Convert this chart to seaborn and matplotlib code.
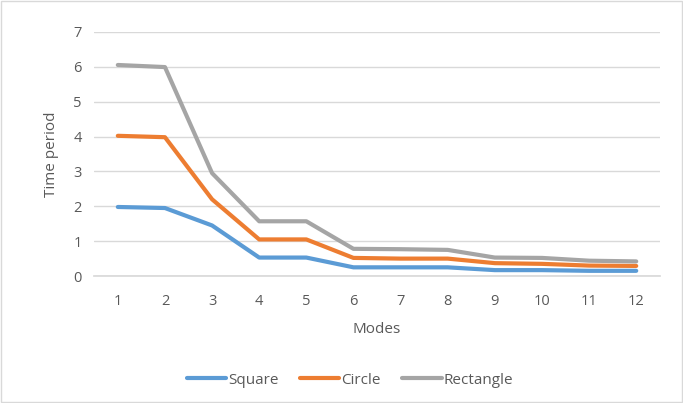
"""
Time period per mode for three shapes, Excel-style line chart.
"""
import matplotlib
matplotlib.use('Agg')
import matplotlib.pyplot as plt
import pandas as pd
import seaborn as sns

# Chart data
MODES = [1, 2, 3, 4, 5, 6, 7, 8, 9, 10, 11, 12]
SQUARE = [1.98, 1.95, 1.45, 0.53, 0.53, 0.25, 0.25, 0.25, 0.17, 0.17, 0.15, 0.15]
CIRCLE = [4.02, 3.98, 2.20, 1.05, 1.05, 0.52, 0.50, 0.50, 0.37, 0.35, 0.30, 0.29]
RECTANGLE = [6.05, 5.99, 2.95, 1.57, 1.57, 0.78, 0.77, 0.75, 0.53, 0.52, 0.44, 0.42]
SERIES = ['Square', 'Circle', 'Rectangle']
COLORS = ['#5B9BD5', '#ED7D31', '#A5A5A5']

# Long form table for seaborn
DF = pd.DataFrame({
    'Modes': MODES * 3,
    'Time period': SQUARE + CIRCLE + RECTANGLE,
    'Shape': [s for s in SERIES for _ in MODES],
})

sns.set_theme(style='white')
plt.rcParams['font.family'] = ['Open Sans', 'DejaVu Sans']
TEXT = '#595959'

fig = plt.figure(figsize=(6.83, 4.03), dpi=100)
ax = fig.add_axes([0.138, 0.315, 0.828, 0.606])

sns.lineplot(data=DF, x='Modes', y='Time period', hue='Shape',
             palette=COLORS, linewidth=3, ax=ax, legend=True)

ax.set_xlim(0.5, 12.5)
ax.set_ylim(0, 7)
ax.set_xticks(MODES)
ax.set_yticks(range(0, 8))
ax.grid(axis='y', color='#D9D9D9', linewidth=1)
ax.set_axisbelow(True)
for side in ['top', 'right', 'left']:
    ax.spines[side].set_visible(False)
ax.spines['bottom'].set_color('#D9D9D9')
ax.tick_params(axis='x', length=0, labelsize=10.5, labelcolor=TEXT, pad=13)
ax.tick_params(axis='y', length=0, labelsize=10.5, labelcolor=TEXT, pad=9)
ax.set_xlabel('Modes', fontsize=11, color=TEXT, labelpad=9)
ax.set_ylabel('Time period', fontsize=11, color=TEXT, labelpad=10)

handles, labels = ax.get_legend_handles_labels()
ax.get_legend().remove()
leg = fig.legend(handles, labels, loc='center', bbox_to_anchor=(0.512, 0.057),
                 ncol=3, frameon=False, fontsize=11, handlelength=2.6,
                 handletextpad=0.1, columnspacing=1.4)
for t in leg.get_texts():
    t.set_color(TEXT)

# Light frame around the whole chart
fig.patches.append(plt.Rectangle((0.002, 0.002), 0.996, 0.996,
                                 transform=fig.transFigure, fill=False,
                                 edgecolor='#D9D9D9', linewidth=1))

fig.savefig('out.png', dpi=100)
